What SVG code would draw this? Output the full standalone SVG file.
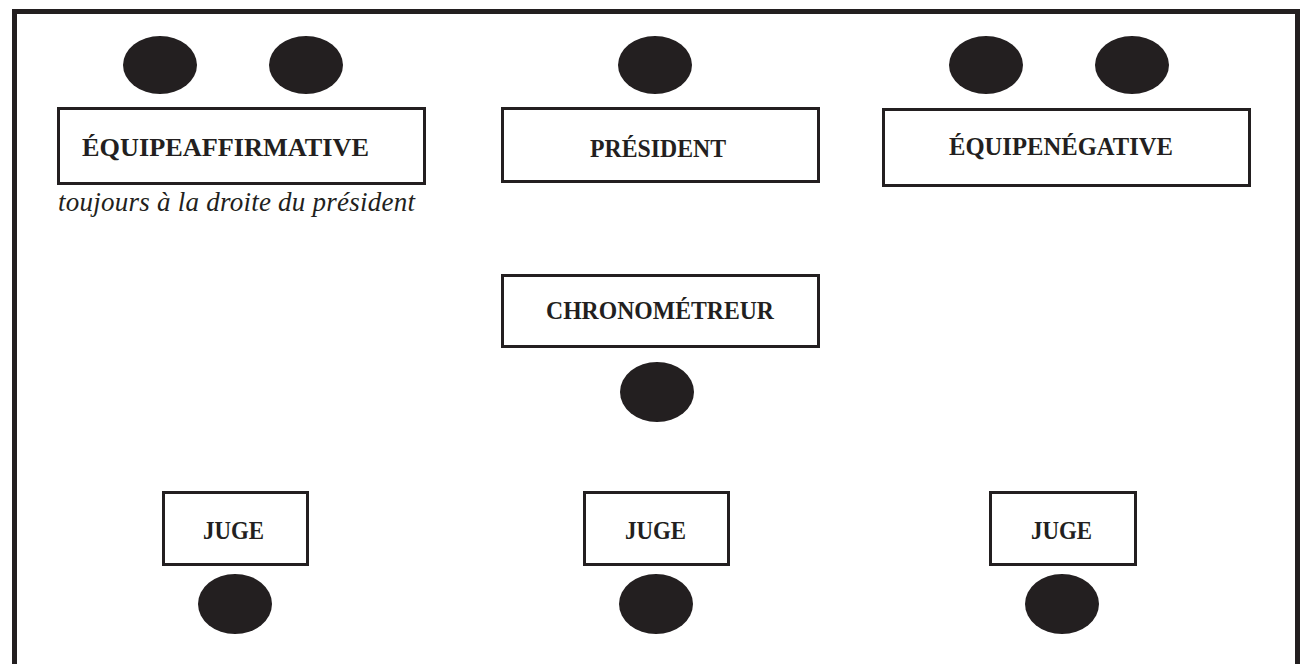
<svg xmlns="http://www.w3.org/2000/svg" width="1301" height="664" viewBox="0 0 1301 664">
<style>
.seat{fill:#231f20}
.box{fill:#fff;stroke:#231f20;stroke-width:3}
.lbl{font-family:"Liberation Serif","Times New Roman",serif;font-weight:bold;font-size:26px;fill:#231f20;text-anchor:middle}
.sm{font-size:25px}
.note{font-family:"Liberation Serif","Times New Roman",serif;font-style:italic;font-size:27px;fill:#231f20}
</style>
<rect width="1301" height="664" fill="#fff"/>
<rect x="14.5" y="11.5" width="1283" height="700" fill="none" stroke="#231f20" stroke-width="5"/>
<g id="affirmative">
<ellipse class="seat" cx="160" cy="65" rx="37" ry="29"/>
<ellipse class="seat" cx="306" cy="65" rx="37" ry="29"/>
<rect class="box" x="58.5" y="108.5" width="366" height="75"/>
<text class="lbl" x="225.5" y="156" textLength="287" lengthAdjust="spacingAndGlyphs">ÉQUIPEAFFIRMATIVE</text>
<text class="note" x="58" y="211" textLength="357">toujours à la droite du président</text>
</g>
<g id="president">
<ellipse class="seat" cx="655" cy="65" rx="37" ry="29"/>
<rect class="box" x="502.5" y="108.5" width="316" height="73"/>
<text class="lbl" x="658" y="157" textLength="136" lengthAdjust="spacingAndGlyphs">PRÉSIDENT</text>
</g>
<g id="negative">
<ellipse class="seat" cx="986" cy="65" rx="37" ry="29"/>
<ellipse class="seat" cx="1132" cy="65" rx="37" ry="29"/>
<rect class="box" x="883.5" y="109.5" width="366" height="76"/>
<text class="lbl" x="1061" y="155" textLength="224" lengthAdjust="spacingAndGlyphs">ÉQUIPENÉGATIVE</text>
</g>
<g id="chronometreur">
<rect class="box" x="502.5" y="275.5" width="316" height="71"/>
<text class="lbl" x="660" y="319" textLength="228" lengthAdjust="spacingAndGlyphs">CHRONOMÉTREUR</text>
<ellipse class="seat" cx="657" cy="392" rx="37" ry="30"/>
</g>
<g id="juge1">
<rect class="box" x="163.5" y="492.5" width="144" height="72"/>
<text class="lbl sm" x="233.5" y="539" textLength="61" lengthAdjust="spacingAndGlyphs">JUGE</text>
<ellipse class="seat" cx="235" cy="604" rx="37" ry="30"/>
</g>
<g id="juge2">
<rect class="box" x="584.5" y="492.5" width="144" height="72"/>
<text class="lbl sm" x="655.5" y="539" textLength="61" lengthAdjust="spacingAndGlyphs">JUGE</text>
<ellipse class="seat" cx="656" cy="604" rx="37" ry="30"/>
</g>
<g id="juge3">
<rect class="box" x="990.5" y="492.5" width="145" height="72"/>
<text class="lbl sm" x="1061.5" y="539" textLength="61" lengthAdjust="spacingAndGlyphs">JUGE</text>
<ellipse class="seat" cx="1062" cy="604" rx="37" ry="30"/>
</g>
<g id="connectors"></g>
</svg>
